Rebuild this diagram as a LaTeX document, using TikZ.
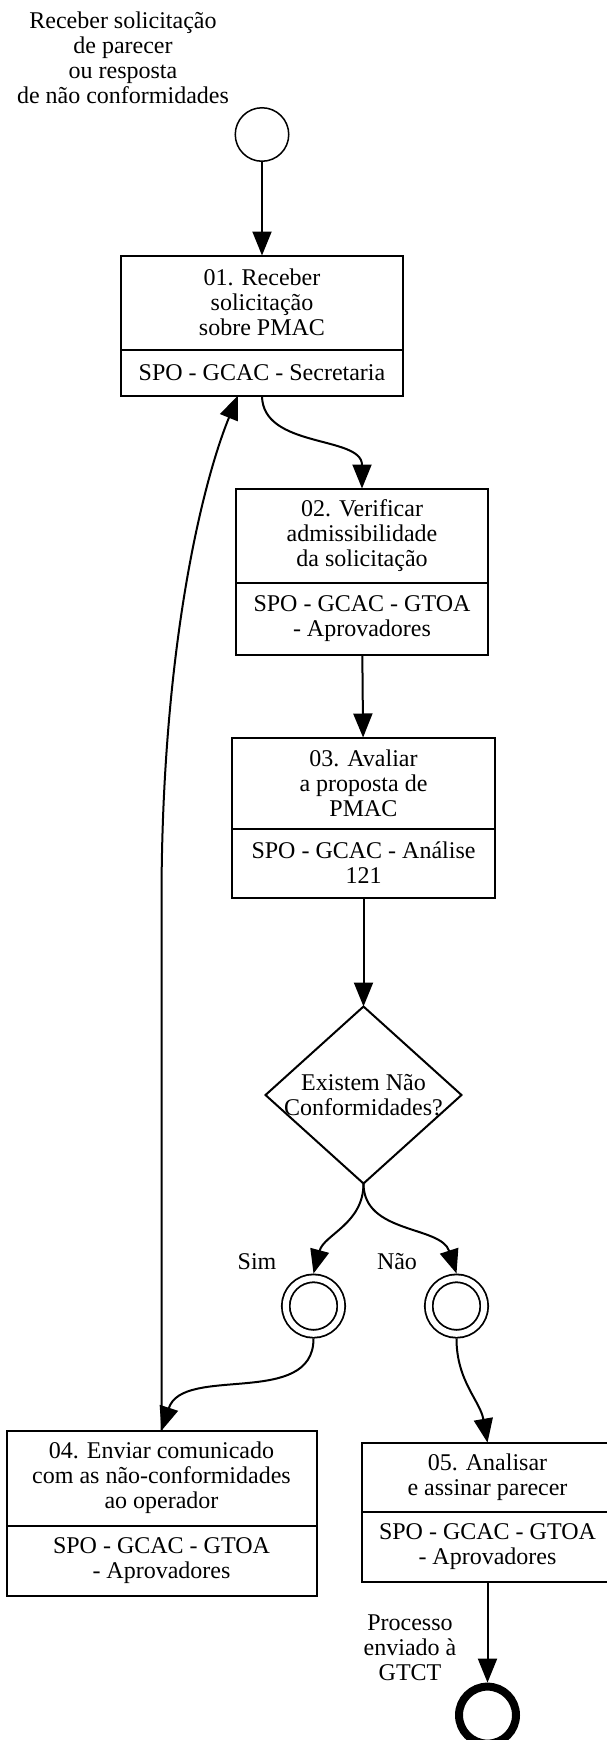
\documentclass[tikz,border=0pt]{standalone}
\usepackage{fontspec}
\setmainfont{Liberation Serif}
\usepackage{tikz}
\usetikzlibrary{arrows.meta,positioning,shapes.geometric}
\tikzset{
  task/.style={draw, line width=2pt, align=center, inner sep=4pt, outer sep=0pt},
  startevent/.style={draw, circle, line width=1.5pt, minimum size=53.5pt, inner sep=0pt},
  midevent/.style={draw, circle, double, line width=1.8pt, double distance=6pt, minimum size=55.5pt, inner sep=0pt, outer sep=4.8pt},
  endevent/.style={draw, circle, line width=8pt, minimum size=57pt, inner sep=0pt},
  decision/.style={draw, diamond, aspect=1.1, line width=2pt, align=center, minimum width=196pt, minimum height=177pt, inner sep=-6pt, outer sep=0pt},
  line/.style={-{Triangle[length=24pt,width=19pt]}, line width=2pt}
}

\begin{document}
\begin{tikzpicture}[x=1pt, y=1pt, font=\fontsize{24}{25}\selectfont]
  \path[use as bounding box, fill=white] (0,0) rectangle (606,-1740);
  \node[align=center] (startlbl) at (123,-58) {Receber solicitação\\de parecer\\ou resposta\\de não conformidades};
  \node[startevent] (start) at (262,-134.5) {};
  \node[task, minimum width=282pt, minimum height=94pt, below=93.5pt of start] (t1) {01. Receber\\solicitação\\sobre PMAC};
  \node[task, minimum width=282pt, minimum height=46pt, below=0pt of t1] (r1) {SPO - GCAC - Secretaria};
  \node[task, minimum width=252pt, minimum height=94pt, below=93pt of r1, xshift=100pt] (t2) {02. Verificar\\admissibilidade\\da solicitação};
  \node[task, minimum width=252pt, minimum height=72pt, below=0pt of t2] (r2) {SPO - GCAC - GTOA\\- Aprovadores};
  \node[task, minimum width=263pt, minimum height=91pt, below=83pt of r2, xshift=1.5pt] (t3) {03. Avaliar\\a proposta de\\PMAC};
  \node[task, minimum width=263pt, minimum height=69pt, below=0pt of t3] (r3) {SPO - GCAC - Análise\\121};
  \node[decision, below=109pt of r3] (dec) {Existem Não\\Conformidades?};
  \node[midevent, below=90pt of dec, xshift=-50pt] (sim) {};
  \node[midevent, below=90pt of dec, xshift=93pt] (nao) {};
  \node (simlbl) at (257,-1262) {Sim};
  \node (naolbl) at (397,-1262) {Não};
  \node[task, minimum width=310pt, minimum height=95pt, below=92pt of sim, xshift=-152pt] (t4) {04. Enviar comunicado\\com as não-conformidades\\ao operador};
  \node[task, minimum width=310pt, minimum height=70pt, below=0pt of t4] (r4) {SPO - GCAC - GTOA\\- Aprovadores};
  \node[task, minimum width=252pt, minimum height=69pt, below=104pt of nao, xshift=31pt] (t5) {05. Analisar\\e assinar parecer};
  \node[task, minimum width=252pt, minimum height=70pt, below=0pt of t5] (r5) {SPO - GCAC - GTOA\\- Aprovadores};
  \node[endevent, below=101pt of r5] (end) {};
  \node[align=center] (endlbl) at (410,-1648) {Processo\\enviado à\\GTCT};
  \draw[line] (start) -- (t1);
  \draw[line] (r1) to[out=-90, in=90] (t2);
  \draw[line] (r2) -- (t3);
  \draw[line] (r3) -- (dec);
  \draw[line] (dec.south) to[out=-90, in=75] (sim.north);
  \draw[line] (dec.south) to[out=-90, in=108] (nao.north);
  \draw[line] (sim.south) to[out=-90, in=72] (t4.north);
  \draw[line] (t4.north) -- ++(0,530) .. controls +(0,250) and +(-36,-88) .. ([xshift=-24pt]r1.south);
  \draw[line] (nao.south) to[out=-90, in=100] (t5.north);
  \draw[line] (r5) -- (end);
\end{tikzpicture}
\end{document}
